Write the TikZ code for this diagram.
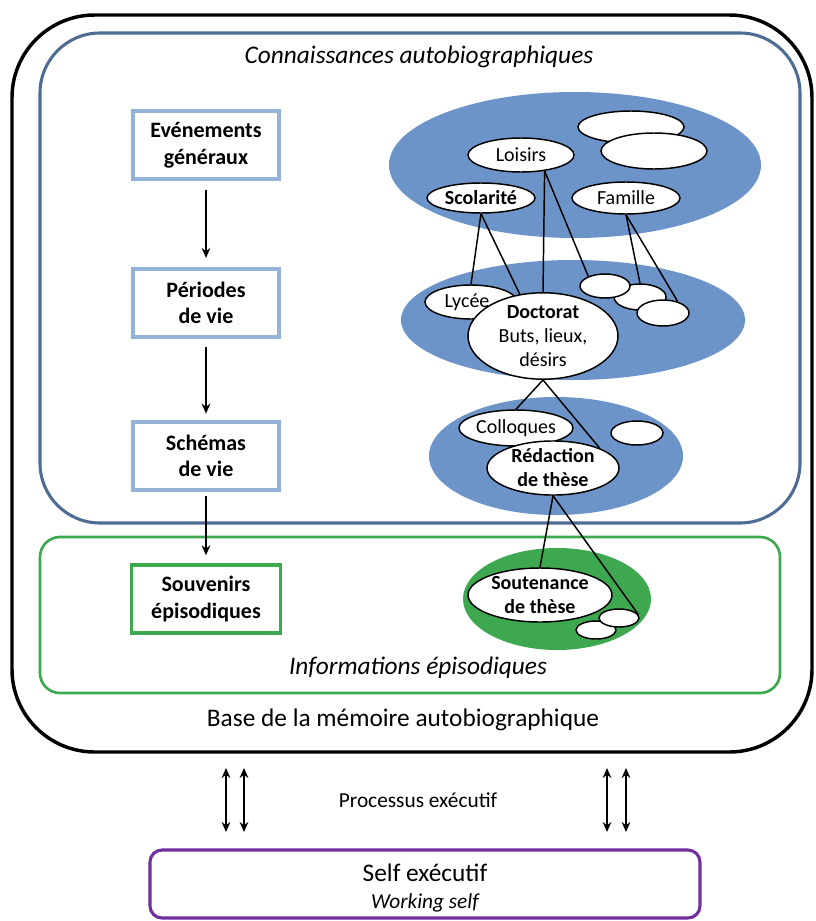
\documentclass[tikz,border=0pt]{standalone}
\usepackage{fontspec}
\setmainfont{Carlito}
\usetikzlibrary{shapes.geometric,arrows.meta}
\definecolor{frameblue}{RGB}{79,108,148}
\definecolor{eblue}{RGB}{108,148,200}
\definecolor{boxblue}{RGB}{149,179,215}
\definecolor{egreen}{RGB}{62,168,80}
\definecolor{fpurple}{RGB}{112,48,160}
\begin{document}
\begin{tikzpicture}[x=0.75pt,y=-0.75pt,
  esz/.style 2 args={minimum width=#1*1.5pt, minimum height=#2*1.5pt},
  blob/.style={ellipse, inner sep=0pt, draw=none},
  wel/.style={ellipse, draw=black, fill=white, line width=1.1pt, inner sep=0pt,
              align=center, font=\fontsize{15}{18}\selectfont},
  lbox/.style={draw=boxblue, line width=2.6pt, fill=white, align=center,
               minimum width=109.5pt, minimum height=51pt, inner sep=0pt,
               font=\bfseries\fontsize{16.5}{20}\selectfont},
  gbox/.style={lbox, draw=egreen},
  arr/.style={-{Stealth[length=7.5pt,width=6.5pt]}, line width=1.6pt},
  darr/.style={{Stealth[length=7.5pt,width=6.5pt]}-{Stealth[length=7.5pt,width=6.5pt]}, line width=1.6pt},
  conn/.style={line width=1.1pt},
  bigtxt/.style={font=\fontsize{19}{23}\selectfont},
  midtxt/.style={font=\fontsize{16}{19}\selectfont}
]
\useasboundingbox (0,0) rectangle (816,921);

% frames
\draw[line width=2.6pt, rounded corners=62pt, fill=white] (12,15) rectangle (812,752);
\draw[frameblue, line width=2.3pt, rounded corners=45pt] (40,33) rectangle (800,523);
\draw[egreen, line width=2pt, rounded corners=15pt] (40,537) rectangle (780,693);
\draw[fpurple, line width=2.3pt, rounded corners=9pt] (150,850) rectangle (700,918);

% titles
\node[bigtxt, font=\itshape\fontsize{19}{23}\selectfont] (ttl) at (419,57) {Connaissances autobiographiques};
\node[bigtxt, font=\itshape\fontsize{19}{23}\selectfont] (info) at (418,668) {Informations épisodiques};
\node[bigtxt] (base) at (403,720) {Base de la mémoire autobiographique};
\node[midtxt] (proc) at (418,800) {Processus exécutif};
\node[bigtxt] (self) at (425,873) {Self exécutif};
\node[midtxt, font=\itshape\fontsize{16}{19}\selectfont] (work) at (425,903) {Working self};

% left column
\node[lbox] (ev) at (206,145) {Evénements\\généraux};
\node[lbox] (per) at (206,303) {Périodes\\de vie};
\node[lbox] (sch) at (206,456) {Schémas\\de vie};
\node[gbox, minimum width=112pt] (souv) at (206,599) {Souvenirs\\épisodiques};
\draw[arr, shorten <=7pt, shorten >=7pt] (ev) -- (per);
\draw[arr, shorten <=6pt, shorten >=5pt] (per) -- (sch);
\draw[arr, shorten <=3pt, shorten >=6pt] (sch) -- (souv);

% bottom double arrows
\coordinate (l1t) at (226,768); \coordinate (l1b) at (226,832);
\coordinate (l2t) at (244,768); \coordinate (l2b) at (244,832);
\coordinate (r1t) at (607,768); \coordinate (r1b) at (607,832);
\coordinate (r2t) at (626,768); \coordinate (r2b) at (626,832);
\draw[darr] (l1t) -- (l1b);
\draw[darr] (l2t) -- (l2b);
\draw[darr] (r1t) -- (r1b);
\draw[darr] (r2t) -- (r2b);

% coloured blobs
\node[blob, fill=eblue, esz={186}{73}] (b1) at (575,165) {};
\node[blob, fill=eblue, esz={172}{60}] (b2) at (573,320) {};
\node[blob, fill=eblue, esz={127}{59}] (b3) at (556,456) {};
\node[blob, fill=egreen, esz={94}{51}] (g) at (557,599) {};

% white ellipses, top
\node[wel, esz={53}{16}] (tr1) at (631,127) {};
\node[wel, esz={53}{18}] (tr2) at (654,151) {};
\node[wel, esz={53}{17}] (loi) at (521,155) {Loisirs};
\node[wel, esz={54}{15}, font=\bfseries\fontsize{15}{18}\selectfont] (scol) at (481,198) {Scolarité};
\node[wel, esz={54}{16}] (fam) at (626,198) {Famille};

% middle
\node[wel, esz={46}{17}] (lyc) at (471,302) {Lycée\hspace*{6pt}};
\node[wel, esz={75}{43}] (doct) at (543,336) {\textbf{Doctorat}\\Buts, lieux,\\désirs};
\node[wel, esz={26}{13}] (s2) at (640,297) {};
\node[wel, esz={25}{12}] (s1) at (605,286) {};
\node[wel, esz={26}{13}] (s3) at (663,313) {};

% third
\node[wel, esz={57}{18}] (coll) at (516,428) {Colloques};
\node[wel, esz={26}{12}] (sm) at (637,433) {};
\node[wel, esz={66}{27}, font=\bfseries\fontsize{15}{18}\selectfont] (red) at (553,468) {Rédaction\\de thèse};

% green
\node[wel, esz={20}{9}] (g2) at (596,630) {};
\node[wel, esz={20}{9}] (g1) at (619,618) {};
\node[wel, esz={72}{27}, font=\bfseries\fontsize{15}{18}\selectfont] (sout) at (540,595) {Soutenance\\de thèse};

% connectors
\draw[conn] (scol.south) -- (lyc.north);
\draw[conn] (scol.south) -- (doct.119);
\draw[conn] (loi.-34) -- (doct.north);
\draw[conn] (loi.-34) -- (s1.150);
\draw[conn] (fam.south) -- (s2.north);
\draw[conn] (fam.south) -- (s3.38);
\draw[conn] (doct.south) -- (coll.north);
\draw[conn] (doct.south) -- (red.23);
\draw[conn] (red.south) -- (sout.north);
\draw[conn] (red.south) -- (g1.10);
\end{tikzpicture}
\end{document}
